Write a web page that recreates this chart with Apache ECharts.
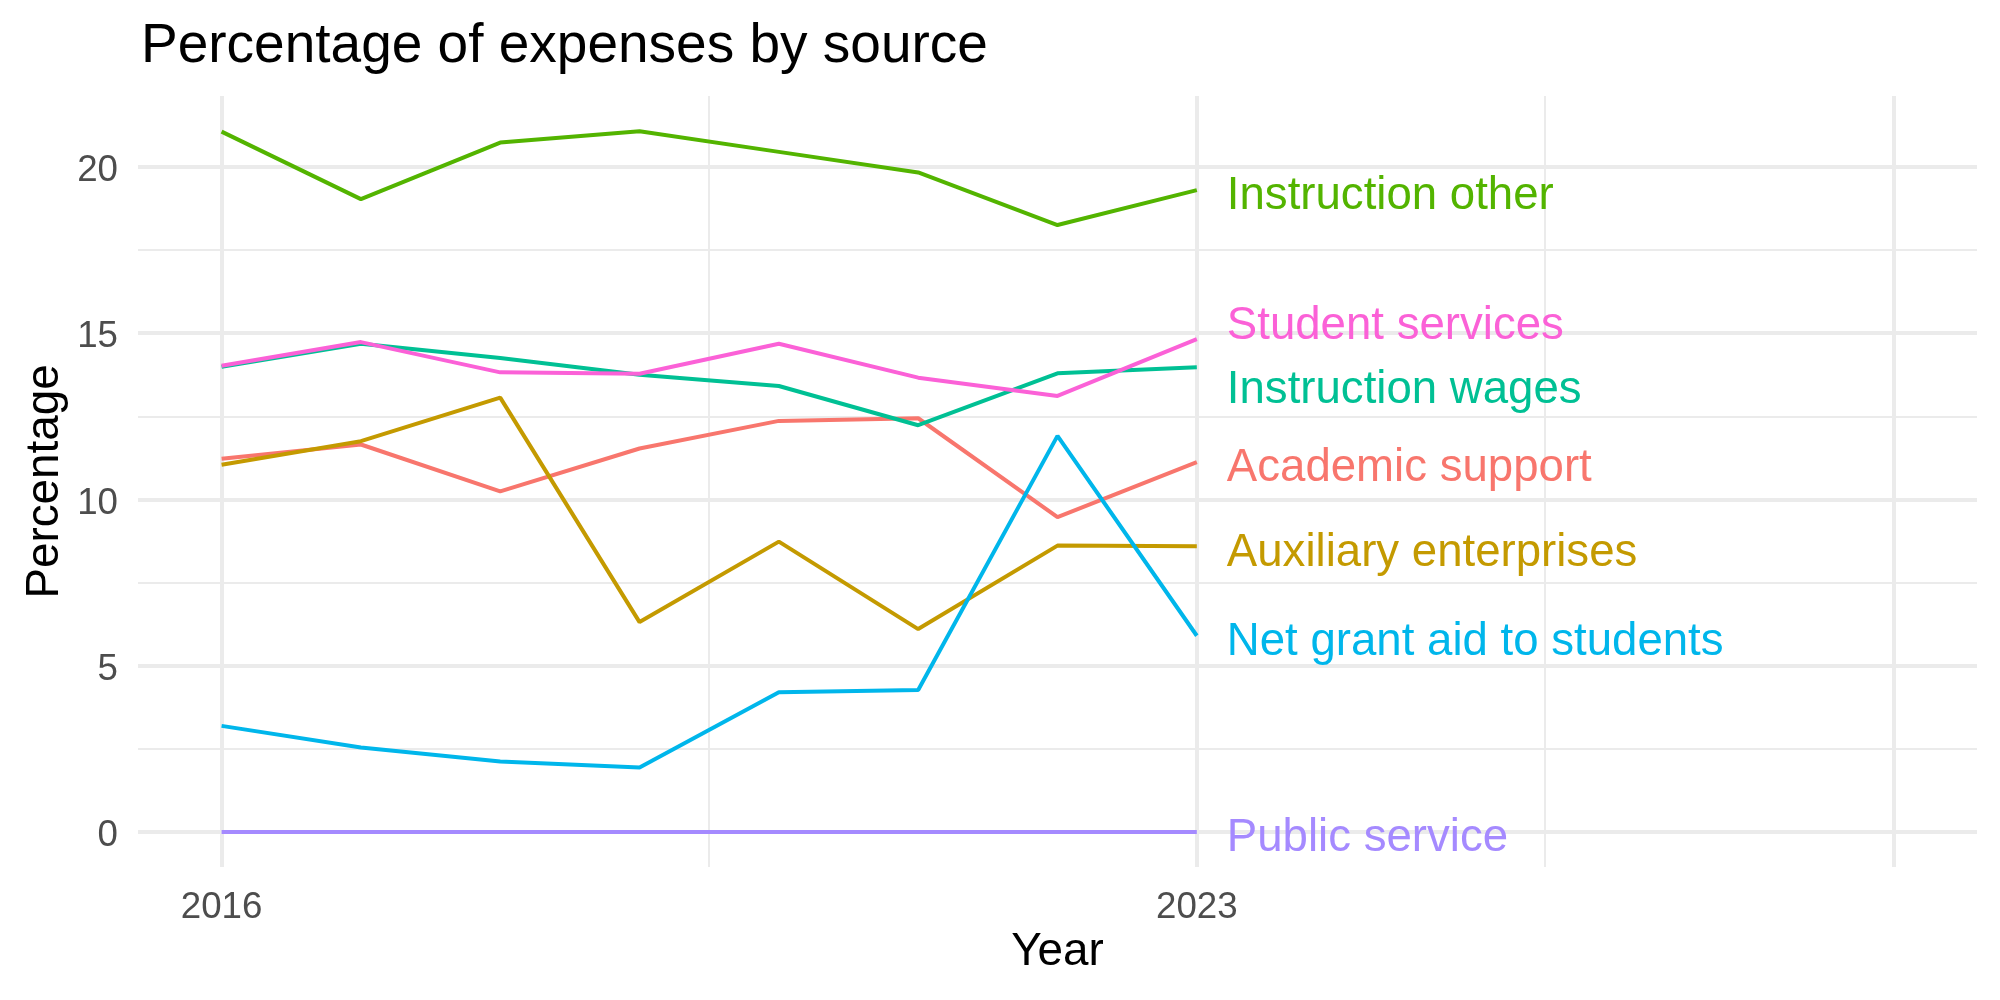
<!DOCTYPE html>
<html>
<head>
<meta charset="utf-8">
<script src="https://cdn.jsdelivr.net/npm/echarts@6/dist/echarts.min.js"></script>
<style>
html,body{margin:0;padding:0;background:#fff;}
#chart{width:2000px;height:1000px;}
</style>
</head>
<body>
<div id="chart"></div>
<script>
// ---- data ----
const years = [2016, 2017, 2018, 2019, 2020, 2021, 2022, 2023];
const seriesNames = ["Academic support", "Auxiliary enterprises", "Instruction other", "Instruction wages", "Net grant aid to students", "Public service", "Student services"];
const academicSupport      = [11.22, 11.65, 10.24, 11.53, 12.36, 12.44, 9.47, 11.12];
const auxiliaryEnterprises = [11.04, 11.75, 13.06, 6.31, 8.73, 6.10, 8.61, 8.59];
const instructionOther     = [21.06, 19.03, 20.73, 21.07, 20.45, 19.83, 18.25, 19.30];
const instructionWages     = [13.99, 14.68, 14.25, 13.75, 13.41, 12.23, 13.79, 13.97];
const netGrantAid          = [3.19, 2.54, 2.12, 1.94, 4.20, 4.27, 11.91, 5.90];
const publicService        = [0, 0, 0, 0, 0, 0, 0, 0];
const studentServices      = [14.02, 14.73, 13.82, 13.78, 14.68, 13.66, 13.11, 14.82];
// label positions (repelled, at last year)
const labelY = [11.11, 8.55, 19.29, 13.46, 5.89, -0.02, 15.38];
// axis breaks
const xMajor = [2016, 2023, 2028];
const xMajorLabels = ["2016", "2023", ""];
const xMinor = [2019.5, 2025.5];
const yMajor = [0, 5, 10, 15, 20];
const yMajorLabels = ["0", "5", "10", "15", "20"];
const yMinor = [2.5, 7.5, 12.5, 17.5];

const allValues = [academicSupport, auxiliaryEnterprises, instructionOther, instructionWages, netGrantAid, publicService, studentServices];
const colors = ["#F8766D", "#C49A00", "#53B400", "#00C094", "#00B6EB", "#A58AFF", "#FB61D7"];

const FONT = "'Liberation Sans', Arial, Helvetica, sans-serif";
const GRID = "#EBEBEB";

const gridLines = [];
yMinor.forEach(v => gridLines.push({yAxis: v, lineStyle: {width: 2, color: GRID, type: 'solid'}, label: {show: false}}));
xMinor.forEach(v => gridLines.push({xAxis: v, lineStyle: {width: 2, color: GRID, type: 'solid'}, label: {show: false}}));
yMajor.forEach((v, i) => gridLines.push({yAxis: v, lineStyle: {width: 4, color: GRID, type: 'solid'},
  label: {show: true, position: 'start', distance: 20, offset: [0, 4], formatter: yMajorLabels[i], color: '#4D4D4D', fontSize: 36.7, fontFamily: FONT}}));
xMajor.forEach((v, i) => gridLines.push({xAxis: v, lineStyle: {width: 4, color: GRID, type: 'solid'},
  label: {show: xMajorLabels[i] !== "", position: 'start', distance: 22, formatter: xMajorLabels[i], color: '#4D4D4D', fontSize: 36.7, fontFamily: FONT}}));

const series = seriesNames.map((name, i) => ({
  name: name,
  type: 'line',
  z: 2,
  showSymbol: false,
  symbol: 'none',
  silent: true,
  lineStyle: {width: 4, color: colors[i]},
  itemStyle: {color: colors[i]},
  data: years.map((y, j) => [y, allValues[i][j]]),
  markLine: i === 0 ? {
    silent: true,
    z: 1,
    symbol: ['none', 'none'],
    animation: false,
    data: gridLines
  } : undefined
}));

seriesNames.forEach((name, i) => series.push({
  name: name + ' label',
  type: 'scatter',
  z: 3,
  silent: true,
  symbolSize: 0,
  itemStyle: {color: colors[i], opacity: 1},
  data: [[years[years.length - 1], labelY[i]]],
  label: {show: true, position: 'right', distance: 30, offset: [0, 6], formatter: name, color: colors[i], opacity: 1, fontSize: 45.6, fontFamily: FONT}
}));

const chart = echarts.init(document.getElementById('chart'), null, {renderer: 'canvas'});
chart.setOption({
  animation: false,
  backgroundColor: '#fff',
  title: {
    text: 'Percentage of expenses by source',
    left: 136,
    top: 14,
    textStyle: {fontSize: 55, fontWeight: 'normal', color: '#000', fontFamily: FONT}
  },
  grid: {left: 138, right: 23, top: 96, bottom: 133, containLabel: false},
  xAxis: {
    type: 'value', min: 2015.4, max: 2028.6,
    axisLine: {show: false}, axisTick: {show: false}, axisLabel: {show: false}, splitLine: {show: false},
    name: 'Year', nameLocation: 'middle', nameGap: 62,
    nameTextStyle: {fontSize: 45.8, color: '#000', fontFamily: FONT}
  },
  yAxis: {
    type: 'value', min: -1.054, max: 22.13,
    axisLine: {show: false}, axisTick: {show: false}, axisLabel: {show: false}, splitLine: {show: false},
    name: 'Percentage', nameLocation: 'middle', nameGap: 70, nameRotate: 90,
    nameTextStyle: {fontSize: 45.8, color: '#000', fontFamily: FONT}
  },
  series: series
});
</script>
</body>
</html>
